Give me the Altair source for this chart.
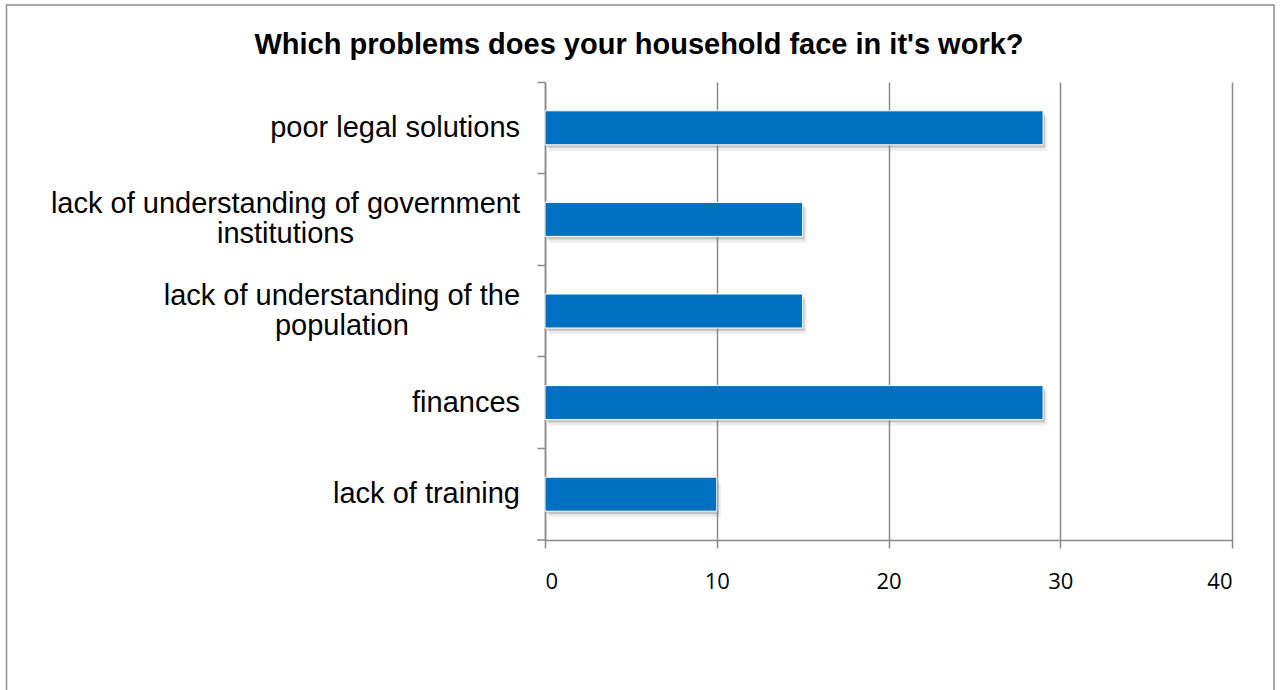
import altair as alt
import pandas as pd

# ---- data ----
categories = [
    "poor legal solutions",
    "lack of understanding of government institutions",
    "lack of understanding of the population",
    "finances",
    "lack of training",
]
display_labels = [
    "poor legal solutions",
    "lack of understanding of government\ninstitutions",
    "lack of understanding of the\npopulation",
    "finances",
    "lack of training",
]
values = [29, 15, 15, 29, 10]
x_ticks = [0, 10, 20, 30, 40]
title_text = "Which problems does your household face in it's work?"

# ---- styling ----
GRAY = "#8a8a8a"
BLUE = "#0070C0"
LABEL_FONT = "Liberation Sans"
LABEL_SIZE = 29
LINE_H = 30
W, H = 687, 458

# Arial / Liberation Sans advance widths (1/1000 em) to center multi-line labels
ARIAL = {' ': 278, 'a': 556, 'b': 556, 'c': 500, 'd': 556, 'e': 556, 'f': 278, 'g': 556,
         'h': 556, 'i': 222, 'j': 222, 'k': 500, 'l': 222, 'm': 833, 'n': 556, 'o': 556,
         'p': 556, 'q': 556, 'r': 333, 's': 500, 't': 278, 'u': 556, 'v': 500, 'w': 722,
         'x': 500, 'y': 500, 'z': 500}


def text_w(s):
    return sum(ARIAL.get(c, 556) for c in s) / 1000 * LABEL_SIZE


df = pd.DataFrame({"cat": categories, "label": display_labels, "value": values})
df["lx"] = [-25 - max(text_w(l) for l in s.split("\n")) / 2 for s in display_labels]
df["nlines"] = [len(s.split("\n")) for s in display_labels]

x_enc = alt.X(
    "value:Q",
    scale=alt.Scale(domain=[0, 40], nice=False),
    axis=alt.Axis(
        title=None, values=x_ticks, grid=True, gridColor=GRAY, gridWidth=1.5,
        tickSize=8, tickColor=GRAY, tickWidth=1.5, domainColor=GRAY, domainWidth=1.5,
        labelFont="Open Sans", labelFontSize=22, labelColor="#000000", labelPadding=23,
    ),
)
y_enc = alt.Y(
    "cat:N",
    sort=categories,
    scale=alt.Scale(paddingInner=0, paddingOuter=0),
    axis=alt.Axis(
        title=None, labels=False, bandPosition=0, ticks=True, tickSize=8,
        tickColor=GRAY, tickWidth=1.5, domainColor=GRAY, domainWidth=1.5, grid=False,
    ),
)

shadow2 = alt.Chart(df).mark_bar(size=34, color="#7f7f7f", opacity=0.15, xOffset=4, yOffset=6).encode(x=x_enc, y=y_enc)
shadow1 = alt.Chart(df).mark_bar(size=34, color="#7f7f7f", opacity=0.35, xOffset=2, yOffset=3).encode(x=x_enc, y=y_enc)
bars = alt.Chart(df).mark_bar(size=34, color=BLUE, stroke="white", strokeWidth=1).encode(x=x_enc, y=y_enc)

label_base = dict(
    align="center", baseline="middle", lineBreak="\n", font=LABEL_FONT,
    fontSize=LABEL_SIZE, lineHeight=LINE_H, color="#000000",
)
label_enc = dict(
    x=alt.X("lx:Q", scale=None, axis=None),
    y=y_enc,
    text="label:N",
)
labels1 = alt.Chart(df).transform_filter("datum.nlines == 1").mark_text(**label_base).encode(**label_enc)
labels2 = alt.Chart(df).transform_filter("datum.nlines == 2").mark_text(
    dy=-LINE_H / 2, **label_base
).encode(**label_enc)

title = alt.Chart(pd.DataFrame({"t": [title_text]})).mark_text(
    font=LABEL_FONT, fontSize=29, fontWeight="bold", align="center",
    baseline="alphabetic", color="#000000",
).encode(x=alt.value(94), y=alt.value(-28), text="t:N")

bottom_tick = alt.Chart(pd.DataFrame({"a": [0]})).mark_rule(color=GRAY, strokeWidth=1.5).encode(
    x=alt.value(-8), x2=alt.value(0), y=alt.value(H)
)

border = alt.Chart(pd.DataFrame({"a": [0]})).mark_rect(
    fill="transparent", stroke="#8c8c8c", strokeWidth=1.5
).encode(x=alt.value(-538.5), x2=alt.value(729), y=alt.value(-77), y2=alt.value(620))

chart = alt.layer(border, shadow2, shadow1, bars, labels1, labels2, title, bottom_tick).properties(
    width=W, height=H,
    padding={"left": 545, "top": 82, "right": 48, "bottom": 150},
    autosize=alt.AutoSizeParams(type="none"),
).configure_view(stroke="transparent")

chart.save("out.html", embed_options={"renderer": "svg", "actions": False})
